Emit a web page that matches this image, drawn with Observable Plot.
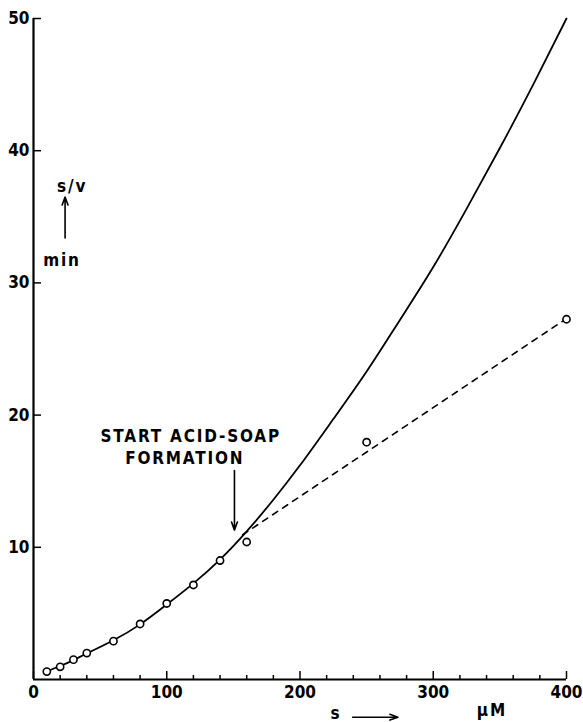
<!DOCTYPE html>
<html>
<head>
<meta charset="utf-8">
<script src="https://cdn.jsdelivr.net/npm/d3@7"></script>
<script src="https://cdn.jsdelivr.net/npm/@observablehq/plot@0.6"></script>
<style>
  html, body { margin: 0; padding: 0; background: #fff; }
  #chart svg { display: block; }
  #chart g[aria-label="text"] text { letter-spacing: 1.8px; }
</style>
</head>
<body>
<div id="chart"></div>
<script>
// measured points (s in µM, s/v in min)
const pointS  = [10, 20, 30, 40, 60, 80, 100, 120, 140, 160, 250, 400];
const pointSV = [0.6, 0.96, 1.5, 2.0, 2.9, 4.2, 5.75, 7.15, 9.0, 10.4, 17.95, 27.25];

// solid fitted curve
const curveS  = [10, 20, 30, 40, 60, 80, 100, 120, 140, 160, 180, 200, 225, 250, 275, 300, 325, 350, 375, 400];
const curveSV = [0.62, 1.02, 1.47, 1.97, 2.97, 4.17, 5.67, 7.27, 9.07, 11.2, 13.6, 16.2, 19.7, 23.3, 27.2, 31.2, 35.6, 40.2, 45.0, 50];

// dashed line (after acid-soap formation)
const dashS  = [157, 400];
const dashSV = [10.95, 27.3];

// tick labels
const xTicks = [0, 100, 200, 300, 400];
const xMinor = [20, 40, 60, 80, 120, 140, 160, 180, 220, 240, 260, 280, 320, 340, 360, 380];
const yTicks = [10, 20, 30, 40, 50];

// annotations
const notes = [
  {x: 118, y: 18.4, text: "START ACID-SOAP"},
  {x: 113.5, y: 16.7, text: "FORMATION"},
  {x: 29, y: 37.3, text: "s/v"},
  {x: 21.4, y: 31.7, text: "min"},
  {x: 227, y: -2.55, text: "s"},
  {x: 344, y: -2.35, text: "µM"}
];
const arrows = [
  {x1: 150.8, y1: 15.8, x2: 150.8, y2: 11.3},
  {x1: 23.7, y1: 33.4, x2: 23.7, y2: 36.5},
  {x1: 239.5, y1: -2.85, x2: 273.5, y2: -2.85}
];

const points = pointS.map((s, i) => ({s, v: pointSV[i]}));
const curve = curveS.map((s, i) => ({s, v: curveSV[i]}));
const dash = dashS.map((s, i) => ({s, v: dashSV[i]}));

const font = "'DejaVu Sans Condensed', 'DejaVu Sans', sans-serif";

const chart = Plot.plot({
  width: 583,
  height: 722,
  marginLeft: 33,
  marginRight: 17,
  marginTop: 18,
  marginBottom: 43,
  style: {fontFamily: font, fontWeight: "bold", fontSize: "16px", color: "#000", background: "#fff"},
  x: {domain: [0, 400]},
  y: {domain: [0, 50]},
  marks: [
    Plot.axisX(xMinor, {tickSize: -4, text: null, strokeWidth: 1.5}),
    Plot.axisX(xTicks, {tickSize: -8, text: null, strokeWidth: 1.5}),
    Plot.axisX(xTicks, {tickSize: 0, tickPadding: 6, fontSize: 17, fontWeight: "bold", label: null}),
    Plot.axisY(yTicks, {tickSize: -8, text: null, strokeWidth: 1.5}),
    Plot.axisY(yTicks, {tickSize: 0, tickPadding: 4, fontSize: 17, fontWeight: "bold", label: null}),
    Plot.ruleX([0], {y1: 0, y2: 50, strokeWidth: 2.2}),
    Plot.ruleY([0], {x1: 0, x2: 400, strokeWidth: 2.2}),
    Plot.line(curve, {x: "s", y: "v", curve: "natural", stroke: "#000", strokeWidth: 1.8}),
    Plot.line(dash, {x: "s", y: "v", stroke: "#000", strokeWidth: 1.6, strokeDasharray: "6,6"}),
    Plot.dot(points, {x: "s", y: "v", r: 3.6, stroke: "#000", strokeWidth: 1.6, fill: "#fff"}),
    Plot.arrow(arrows, {x1: "x1", y1: "y1", x2: "x2", y2: "y2", stroke: "#000", strokeWidth: 1.6, headLength: 8, headAngle: 40}),
    Plot.text(notes, {x: "x", y: "y", text: "text", fontSize: 17, fontWeight: "bold", fill: "#000"})
  ]
});
document.getElementById("chart").appendChild(chart);
</script>
</body>
</html>
